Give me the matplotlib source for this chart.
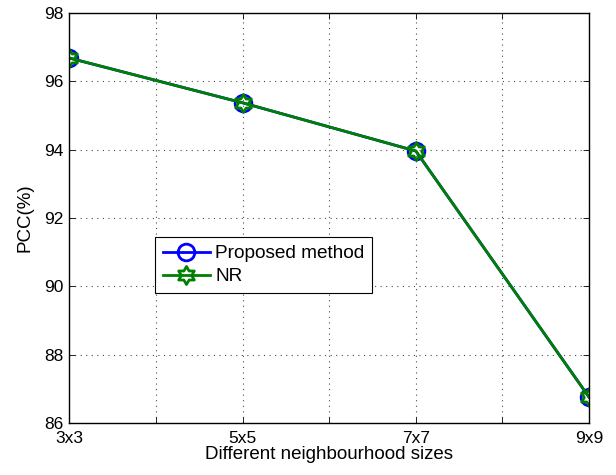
import matplotlib
matplotlib.use("Agg")
import matplotlib.pyplot as plt
from matplotlib.path import Path

# Neighbourhood sizes and PCC results for each method.
sizes = ["3x3", "5x5", "7x7", "9x9"]
proposed = [96.68, 95.37, 93.96, 86.76]
nr = [96.68, 95.37, 93.96, 86.76]

plt.rcParams['font.family'] = ['Liberation Sans', 'DejaVu Sans']

# six-pointed star (hexagram) marker
hexagram = Path.unit_regular_star(6, innerCircle=0.577)

fig = plt.figure(figsize=(6.16, 4.75), dpi=100)
ax = fig.add_axes([0.1128, 0.1095, 0.8433, 0.8632])

x = list(range(1, len(sizes) + 1))
ax.plot(x, proposed, color=(0, 0, 1), lw=2, marker='o', ms=12,
        mfc='none', mec=(0, 0, 1), mew=2, label="Proposed method")
ax.plot(x, nr, color=(0, 0.5, 0), lw=2, marker=hexagram, ms=13,
        mfc='none', mec=(0, 0.5, 0), mew=2, label="NR")

# Ticks every half step, labels only on the integer sizes.
xticks = [1, 1.5, 2, 2.5, 3, 3.5, 4]
xlabels = []
for t in xticks:
    xlabels.append(sizes[int(t) - 1] if t == int(t) else "")
ax.set_xticks(xticks)
ax.set_xticklabels(xlabels)
ax.set_xlim(1, 4)
ax.set_ylim(86, 98)
ax.set_yticks(range(86, 99, 2))

ax.grid(True, linestyle=(0, (1, 4)), color='0.3', lw=0.8)
ax.tick_params(direction='in', top=True, right=True, length=4,
               labelsize=12.5, width=0.6)
ax.tick_params(axis='x', pad=6)
ax.tick_params(axis='y', pad=4)
for s in ax.spines.values():
    s.set_linewidth(1.0)

ax.set_xlabel("Different neighbourhood sizes", fontsize=13.5, labelpad=0)
ax.set_ylabel("PCC(%)", fontsize=13.5, labelpad=8)

leg = ax.legend(loc='upper left', bbox_to_anchor=(0.1646, 0.453),
                fontsize=13.7, fancybox=False, framealpha=1,
                edgecolor='black', handlelength=2.5, borderpad=0.4,
                labelspacing=0.3, handletextpad=0.28, borderaxespad=0)
leg.get_frame().set_linewidth(0.8)

fig.savefig("out.png", dpi=100)
